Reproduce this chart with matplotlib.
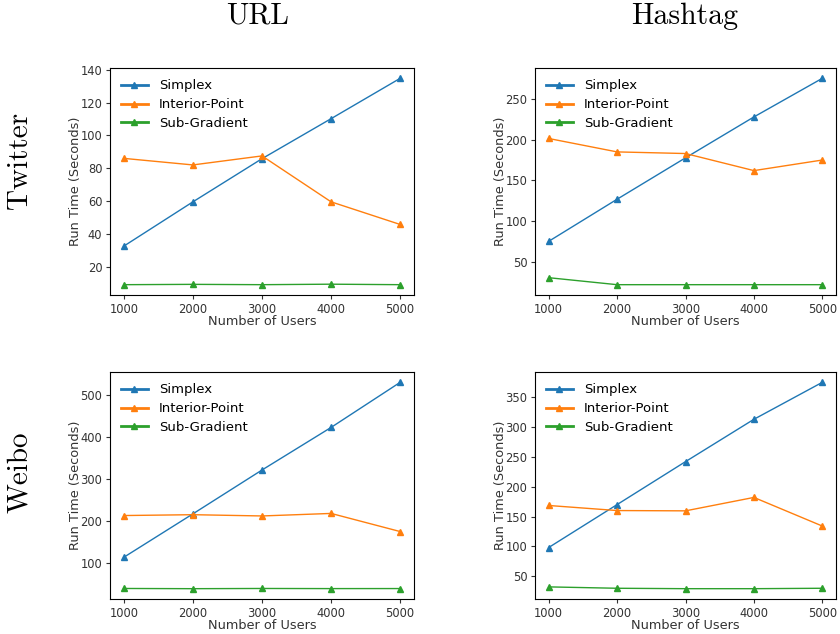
import numpy as np
import matplotlib
matplotlib.use("Agg")
import matplotlib.pyplot as plt

# =========================
# Data
# =========================

users = [1000, 2000, 3000, 4000, 5000]
methods = ["Simplex", "Interior-Point", "Sub-Gradient"]
colors = ["#1f77b4", "#ff7f0e", "#2ca02c"]

twitter_url_simplex = [32.5, 59.5, 85.8, 110.2, 134.8]
twitter_url_interior = [86.0, 82.0, 87.5, 59.5, 45.7]
twitter_url_subgrad = [9.0, 9.2, 9.0, 9.3, 9.0]

twitter_hashtag_simplex = [75.0, 126.8, 177.7, 228.0, 275.5]
twitter_hashtag_interior = [201.5, 185.0, 183.0, 162.0, 175.0]
twitter_hashtag_subgrad = [30.3, 21.7, 21.7, 21.7, 21.7]

weibo_url_simplex = [114.0, 217.0, 321.0, 422.0, 529.0]
weibo_url_interior = [213.0, 215.0, 212.0, 218.0, 175.0]
weibo_url_subgrad = [40.0, 39.5, 40.0, 39.7, 39.8]

weibo_hashtag_simplex = [98.0, 170.0, 242.0, 313.0, 375.0]
weibo_hashtag_interior = [168.5, 160.0, 159.5, 182.0, 134.0]
weibo_hashtag_subgrad = [32.0, 29.7, 29.0, 29.0, 29.7]

col_titles = ["URL", "Hashtag"]
row_titles = ["Twitter", "Weibo"]

panels = [
    [(twitter_url_simplex, twitter_url_interior, twitter_url_subgrad),
     (twitter_hashtag_simplex, twitter_hashtag_interior, twitter_hashtag_subgrad)],
    [(weibo_url_simplex, weibo_url_interior, weibo_url_subgrad),
     (weibo_hashtag_simplex, weibo_hashtag_interior, weibo_hashtag_subgrad)],
]


def main():
    fig = plt.figure(figsize=(8.4, 6.34), dpi=100)

    W, H = 840.0, 634.0
    lefts = [110, 535]
    rights = [414, 836]
    tops = [68, 372]
    bottoms = [295, 599]

    for r in range(2):
        for c in range(2):
            ax = fig.add_axes([
                lefts[c] / W,
                1 - bottoms[r] / H,
                (rights[c] - lefts[c]) / W,
                (bottoms[r] - tops[r]) / H,
            ])
            series = panels[r][c]
            for name, vals, col in zip(methods, series, colors):
                ax.plot(users, vals, marker="^", markersize=4.5,
                        linewidth=1.0, color=col, label=name)

            ax.set_xticks(users)
            ax.tick_params(labelsize=8.3, colors="#333333", length=3,
                           pad=2.5)
            ax.set_xlabel("Number of Users", fontsize=9.3, color="#333333",
                          labelpad=-0.5)
            ax.set_ylabel("Run Time (Seconds)", fontsize=9.3,
                          color="#333333", labelpad=-1)

            leg = ax.legend(loc="upper left", frameon=False, fontsize=9.5,
                            handlelength=2.0, handletextpad=0.85,
                            borderaxespad=0.45, borderpad=0.4,
                            labelspacing=0.45)
            for line in leg.get_lines():
                line.set_linewidth(2.0)

    serif = ["cmr10", "DejaVu Serif"]
    fig.text(258 / W, 1 - 16 / H, col_titles[0], fontsize=21.5,
             family=serif, ha="center", va="center")
    fig.text(685 / W, 1 - 16 / H, col_titles[1], fontsize=21.5,
             family=serif, ha="center", va="center")
    fig.text(20 / W, 1 - 160 / H, row_titles[0], fontsize=21,
             family=serif, ha="center", va="center", rotation=90)
    fig.text(20 / W, 1 - 472 / H, row_titles[1], fontsize=21,
             family=serif, ha="center", va="center", rotation=90)

    fig.savefig("out.png", dpi=100)
    plt.close(fig)


if __name__ == "__main__":
    main()
